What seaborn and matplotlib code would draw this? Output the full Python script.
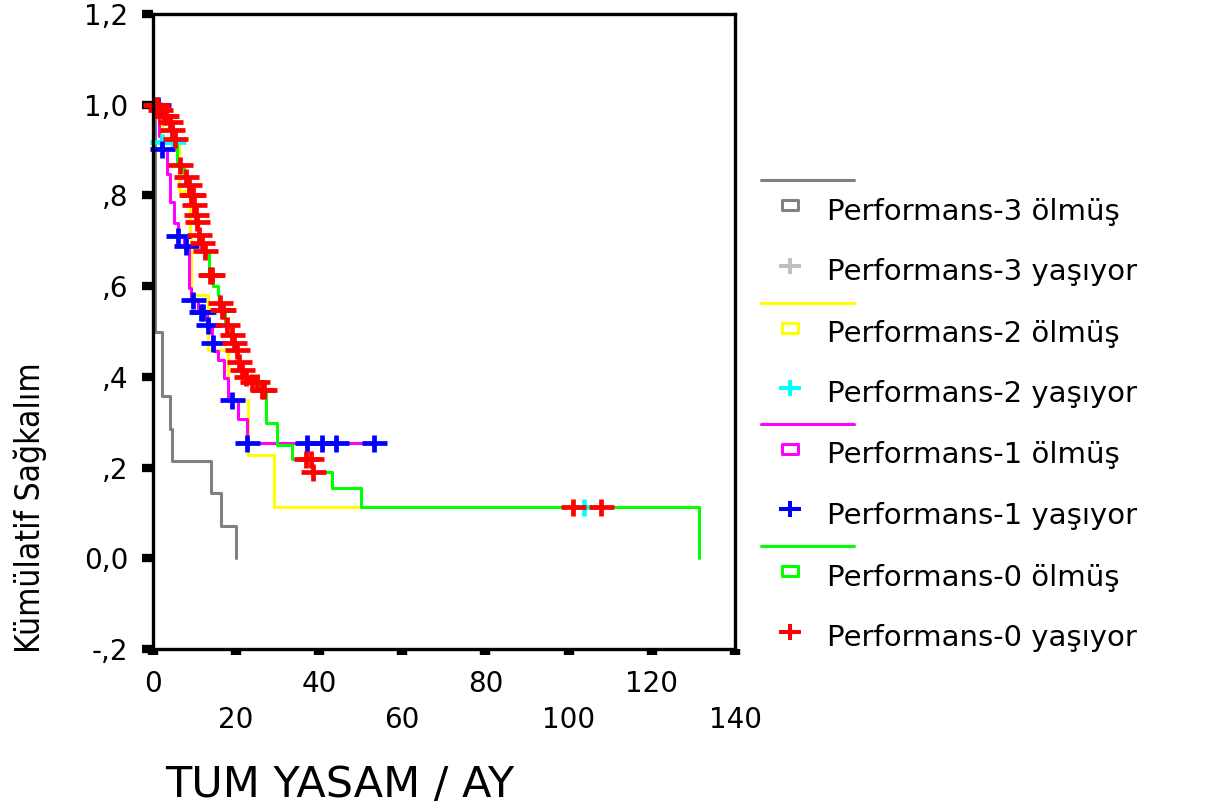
import matplotlib
matplotlib.use("Agg")
import matplotlib.pyplot as plt
from matplotlib.path import Path
from matplotlib.lines import Line2D
from matplotlib import font_manager
import seaborn as sns

# ---------------- data ----------------
# Kaplan-Meier step curves: time (months) at which the survival level changes
perf3_time = [0, 0.5, 2.3, 4.1, 4.7, 14.0, 16.4, 20.0]
perf3_surv = [1.0, 0.5, 0.357, 0.286, 0.214, 0.143, 0.071, 0.0]

perf2_time = [0, 1.5, 2.2, 6.35, 8.9, 9.2, 13.4, 18.2, 23.0, 29.1, 103.7]
perf2_surv = [1.0, 0.96, 0.918, 0.81, 0.71, 0.581, 0.459, 0.348, 0.228, 0.114, 0.114]
perf2_cens_time = [2.2, 5.0, 103.7]
perf2_cens_surv = [0.918, 0.918, 0.114]

perf1_time = [0, 1.45, 2.0, 3.4, 4.1, 5.1, 6.1, 7.5, 8.8, 9.3, 11.0, 13.0, 14.3,
              14.9, 15.8, 17.1, 18.2, 20.6, 22.6, 53.3]
perf1_surv = [1.0, 0.93, 0.903, 0.847, 0.785, 0.739, 0.71, 0.689, 0.595, 0.569, 0.544,
              0.514, 0.474, 0.456, 0.437, 0.397, 0.349, 0.306, 0.254, 0.254]
perf1_cens_time = [1.3, 2.4, 6.1, 8.1, 9.7, 11.6, 12.1, 13.4, 14.6, 19.0, 22.8,
                   37.1, 40.7, 44.1, 53.3]
perf1_cens_surv = [1.0, 0.903, 0.71, 0.689, 0.569, 0.544, 0.544, 0.514, 0.474, 0.349,
                   0.254, 0.254, 0.254, 0.254, 0.254]

perf0_time = [0, 1.5, 2.5, 3.8, 4.3, 4.9, 5.8, 7.5, 8.5, 9.0, 9.9, 10.2, 10.5, 11.0,
              11.6, 12.1, 13.5, 14.6, 15.8, 16.0, 16.8, 17.5, 19.0, 19.3, 20.0, 20.6,
              21.2, 22.0, 23.5, 26.0, 27.2, 29.9, 33.5, 38.3, 43.2, 50.2, 131.3]
perf0_surv = [1.0, 0.988, 0.975, 0.962, 0.944, 0.924, 0.867, 0.84, 0.824, 0.80, 0.779,
              0.757, 0.741, 0.713, 0.695, 0.678, 0.625, 0.600, 0.581, 0.562, 0.547,
              0.514, 0.492, 0.474, 0.459, 0.433, 0.415, 0.40, 0.389, 0.371, 0.298,
              0.250, 0.220, 0.191, 0.154, 0.114, 0.0]
perf0_cens_time = [0.6, 1.1, 1.9, 2.8, 3.2, 4.1, 4.6, 5.3, 6.5, 8.0, 8.7, 9.3, 9.7,
                   10.0, 10.4, 10.8, 11.2, 11.8, 12.5, 13.8, 14.2, 16.2, 16.6, 17.0,
                   17.8, 19.1, 19.5, 20.3, 20.8, 21.5, 22.4, 23.8, 25.0, 26.3, 26.8,
                   37.0, 38.0, 38.6, 101.1, 107.8]
perf0_cens_surv = [1.0, 1.0, 0.988, 0.975, 0.975, 0.962, 0.944, 0.924, 0.867, 0.84,
                   0.824, 0.80, 0.80, 0.779, 0.757, 0.741, 0.713, 0.695, 0.678, 0.625,
                   0.625, 0.562, 0.547, 0.547, 0.514, 0.492, 0.474, 0.459, 0.433,
                   0.415, 0.40, 0.389, 0.389, 0.371, 0.371, 0.220, 0.220, 0.191,
                   0.114, 0.114]

x_ticks_row1 = [0, 40, 80, 120]
x_ticks_row2 = [20, 60, 100, 140]
y_ticks = [-0.2, 0.0, 0.2, 0.4, 0.6, 0.8, 1.0, 1.2]
y_tick_labels = ["-,2", "0,0", ",2", ",4", ",6", ",8", "1,0", "1,2"]

group_names = ["Performans-3", "Performans-2", "Performans-1", "Performans-0"]
dead_suffix = "ölmüş"
alive_suffix = "yaşıyor"
x_label = "TUM YASAM / AY"
y_label = "Kümülatif Sağkalım"

# ---------------- style ----------------
GRAY = "#808080"
LGRAY = "#c0c0c0"
YELLOW = "#ffff00"
CYAN = "#00ffff"
MAGENTA = "#ff00ff"
BLUE = "#0000ff"
GREEN = "#00ff00"
RED = "#ff0000"

sns.set_theme(style="white")
plt.rcParams["font.family"] = ["DejaVu Sans"]

fonts = font_manager.fontManager.ttflist
avail = {f.name for f in fonts}
has_dejavu_cond = any(f.name == "DejaVu Sans" and str(f.stretch) in ("condensed", "semi-condensed")
                      for f in fonts)
if "Liberation Sans Narrow" in avail:
    ylab_font = dict(family=["Liberation Sans Narrow"], fontsize=28)
elif has_dejavu_cond:
    ylab_font = dict(family=["DejaVu Sans"], fontstretch="condensed", fontsize=24)
else:
    ylab_font = dict(family=["Liberation Sans"], fontsize=23)

W, H = 1215, 808
fig = plt.figure(figsize=(W / 100, H / 100), dpi=100)
fig.patch.set_facecolor("white")
ax = fig.add_axes([152.5 / W, 1 - 649 / H, (735 - 152.5) / W, 635 / H])
ax.set_facecolor("white")

PLUS = Path([(-1, 0), (1, 0), (0, -0.68), (0, 0.68)],
            [Path.MOVETO, Path.LINETO, Path.MOVETO, Path.LINETO])
RECT = Path([(-1, -0.62), (1, -0.62), (1, 0.62), (-1, 0.62), (-1, -0.62)],
            [Path.MOVETO, Path.LINETO, Path.LINETO, Path.LINETO, Path.CLOSEPOLY])

LW = 2.2
PLUS_MS = 18
PLUS_MEW = 3.4
curves = [(perf3_time, perf3_surv, GRAY),
          (perf2_time, perf2_surv, YELLOW),
          (perf1_time, perf1_surv, MAGENTA),
          (perf0_time, perf0_surv, GREEN)]
for t, s, c in curves:
    sns.lineplot(x=t, y=s, drawstyle="steps-post", estimator=None, sort=False,
                 color=c, linewidth=LW, ax=ax, legend=False)

censors = [(perf2_cens_time, perf2_cens_surv, CYAN),
           (perf1_cens_time, perf1_cens_surv, BLUE),
           (perf0_cens_time, perf0_cens_surv, RED)]
for t, s, c in censors:
    sns.lineplot(x=t, y=s, estimator=None, sort=False, linestyle="",
                 marker=PLUS, markersize=PLUS_MS, markeredgewidth=PLUS_MEW,
                 markeredgecolor=c, markerfacecolor="none", color=c,
                 ax=ax, legend=False, clip_on=False)

ax.set_xlim(0, 140)
ax.set_ylim(-0.2, 1.2)
ax.set_xticks(x_ticks_row1)
ax.set_xticklabels([str(v) for v in x_ticks_row1])
ax.set_xticks(x_ticks_row2, minor=True)
ax.set_xticklabels([str(v) for v in x_ticks_row2], minor=True)
ax.set_yticks(y_ticks)
ax.set_yticklabels(y_tick_labels)
ax.set_xlabel("")
ax.set_ylabel("")
ax.grid(False)

ax.tick_params(axis="x", which="both", direction="out", bottom=True, length=4.3,
               width=7.5, color="black", labelsize=20, labelcolor="black")
ax.tick_params(axis="x", which="major", pad=10.5)
ax.tick_params(axis="x", which="minor", pad=37.0)
ax.tick_params(axis="y", which="major", direction="out", left=True, length=7.6,
               width=6, color="black", labelsize=20, labelcolor="black", pad=9.6)
ax.tick_params(axis="y", which="minor", left=False)
for sp in ax.spines.values():
    sp.set_visible(True)
    sp.set_linewidth(2.4)
    sp.set_color("black")


def fx(px):
    return px / W


def fy(py):
    return 1 - py / H


# axis titles
fig.text(fx(340), fy(797), x_label, fontsize=31, color="black",
         ha="center", va="baseline")
fig.text(fx(30), fy(508), y_label, rotation=90, color="black",
         ha="center", va="center", **ylab_font)

# legend (SPSS-style: line row, then "dead" marker row, then "alive" marker row)
legend_line_y = [180, 302.5, 423.5, 546]
legend_cols = [(GRAY, LGRAY), (YELLOW, CYAN), (MAGENTA, BLUE), (GREEN, RED)]
for name, (lc, pc), y0 in zip(group_names, legend_cols, legend_line_y):
    fig.add_artist(Line2D([fx(761), fx(854)], [fy(y0), fy(y0)], color=lc,
                          linewidth=LW, transform=fig.transFigure))
    fig.add_artist(Line2D([fx(790)], [fy(y0 + 25)], linestyle="", marker=RECT,
                          markersize=11.5, markeredgewidth=2.2, markeredgecolor=lc,
                          markerfacecolor="none", transform=fig.transFigure))
    fig.text(fx(827), fy(y0 + 39.5), f"{name} {dead_suffix}", fontsize=21,
             color="black", ha="left", va="baseline")
    fig.add_artist(Line2D([fx(790)], [fy(y0 + 86)], linestyle="", marker=PLUS,
                          markersize=16.5, markeredgewidth=2.9, markeredgecolor=pc,
                          markerfacecolor="none", transform=fig.transFigure))
    fig.text(fx(827), fy(y0 + 100), f"{name} {alive_suffix}", fontsize=21,
             color="black", ha="left", va="baseline")

fig.savefig("out.png", dpi=100, facecolor="white")
